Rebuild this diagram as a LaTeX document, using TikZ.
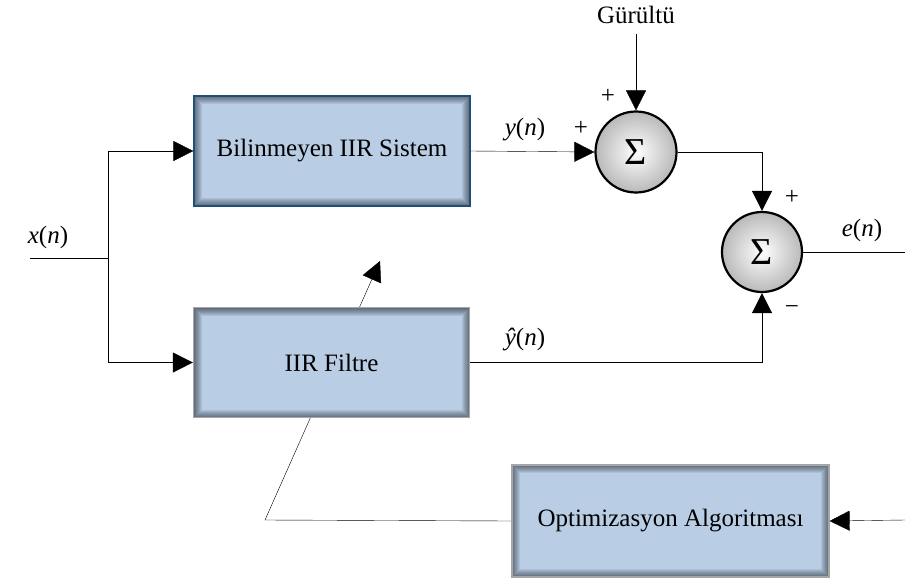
\documentclass[tikz,border=0pt]{standalone}
\usepackage{fontspec}
\setmainfont{Liberation Serif}
\newfontfamily\timesfont{Liberation Serif}
\usetikzlibrary{arrows.meta,backgrounds}
\definecolor{boxblue}{HTML}{B9CDE5}
\definecolor{sysedge}{HTML}{1F4E79}

\begin{document}
\begin{tikzpicture}[x=1pt, y=-1pt,
    font=\timesfont\fontsize{25}{30}\selectfont,
    >={Triangle[length=20pt,width=20pt]},
    line width=2pt,
    block/.style={draw=gray!70, line width=1.2pt, fill=boxblue,
        minimum width=276pt, minimum height=110pt, inner sep=0pt,
        path picture={
            \foreach \w in {2,4,...,16}
                \draw[black, opacity=0.07, line width=\w pt]
                    (path picture bounding box.south west) rectangle
                    (path picture bounding box.north east);
        }},
    sumnode/.style={circle, draw=black, line width=2.2pt, minimum size=81pt,
        inner sep=0pt, inner color=white, outer color=gray!55,
        font=\timesfont\fontsize{38}{40}\selectfont},
    sign/.style={inner sep=0pt}
]
    \useasboundingbox (0,0) rectangle (905,581);

    % blocks
    \node[block, draw=sysedge] (sys) at (332,151) {Bilinmeyen IIR Sistem};
    \node[block] (filt) at (331.5,362.5) {IIR Filtre};
    \node[block, minimum width=317pt, minimum height=112pt] (opt) at (670.5,521) {Optimizasyon Algoritması};

    % summing junctions
    \node[sumnode] (s1) at (636,152) {Σ};
    \node[sumnode, minimum size=80pt] (s2) at (762,252) {Σ};

    % free ends
    \coordinate (xin) at (30,258);
    \coordinate (split) at (108,258);
    \coordinate (eout) at (905,252);
    \coordinate (optin) at (905,520);
    \coordinate (fbcorner) at (265,520);
    \coordinate (fbtip) at (380,261);

    \node (noise) at (636,15) {Gürültü};

    % feedback through the filter
    \begin{pgfonlayer}{background}
        \draw[->] (opt.west) -- (fbcorner) -- (fbtip);
    \end{pgfonlayer}

    % signal paths
    \draw (xin) -- (split);
    \draw[->] (split) |- (sys.west);
    \draw[->] (split) |- (filt.west);
    \draw[->] (sys.east) -- (s1.west);
    \draw[->] ([yshift=-6pt]noise.south) -- (s1.north);
    \draw[->] (s1.east) -| (s2.north);
    \draw[->] (filt.east) -| (s2.south);
    \draw (s2.east) -- (eout);
    \draw[->] (optin) -- (opt.east);

    % labels
    \node at (48,237) {\textit{x}(\textit{n})};
    \node at (525,130) {\textit{y}(\textit{n})};
    \node at (525,340) {\textit{ŷ}(\textit{n})};
    \node at (862,230) {\textit{e}(\textit{n})};
    \node[sign] at (608,96) {+};
    \node[sign] at (581,128) {+};
    \node[sign] at (792,197) {+};
    \node[sign] at (792,310) {−};
\end{tikzpicture}
\end{document}
